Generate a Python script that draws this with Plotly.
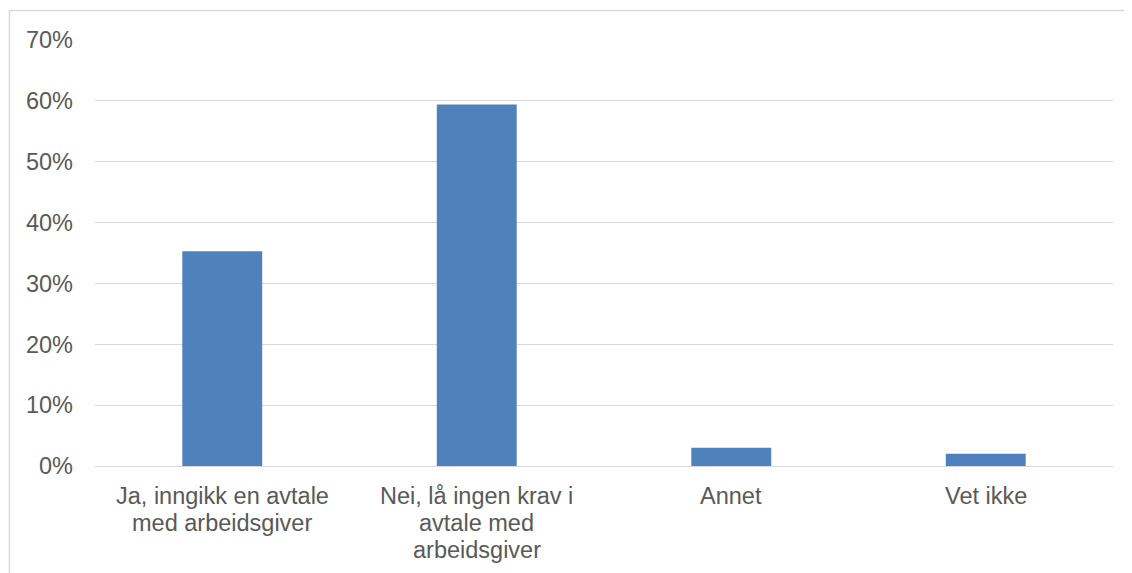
import plotly.graph_objects as go

categories = ["Ja, inngikk en avtale<br>med arbeidsgiver",
              "Nei, lå ingen krav i<br>avtale med<br>arbeidsgiver",
              "Annet",
              "Vet ikke"]
values = [0.353, 0.594, 0.030, 0.020]

# page body has an 8px margin, so the figure is drawn 8px right/down
OFF = 8
W, H = 1132 - OFF, 573 - OFF
L, R, T, B = 95 - OFF, 1113 - OFF, 40 - OFF, 466.5 - OFF
FS = 23.5
LINE = 26.7

def px(x):
    return (x - L) / (R - L)

def py(y):
    return (B - y) / (B - T)

fig = go.Figure(go.Bar(x=categories, y=values, marker_color="#4F81BD",
                       marker_line_width=0, width=0.314))

annotations = []
for cat in categories:
    for i, line in enumerate(cat.split("<br>")):
        yc = 497 - OFF + LINE * i
        annotations.append(dict(x=cat, xref="x", y=py(yc), yref="paper",
                                text=line, showarrow=False, xanchor="center",
                                yanchor="middle",
                                font=dict(size=FS, color="#595959")))

fig.update_layout(
    width=W, height=H,
    margin=dict(l=L, r=W - R, t=T, b=H - B, pad=0),
    paper_bgcolor="white", plot_bgcolor="white",
    font=dict(family="Liberation Sans, Arial, sans-serif", size=FS, color="#595959"),
    showlegend=False,
    annotations=annotations,
    shapes=[dict(type="rect", xref="paper", yref="paper",
                 x0=px(9.5 - OFF), x1=px(1145), y0=py(10.5 - OFF), y1=py(590),
                 line=dict(color="#D9D9D9", width=1.5), fillcolor="rgba(0,0,0,0)",
                 layer="below")],
)
fig.update_yaxes(range=[0, 0.7], dtick=0.1, tickformat=".0%",
                 showgrid=True, gridcolor="#D9D9D9", gridwidth=1.3,
                 zeroline=False, showline=False, ticks="", ticklabelstandoff=21,
                 tickfont=dict(size=FS, color="#595959"))
fig.update_xaxes(showgrid=False, showline=True, linecolor="#D9D9D9", linewidth=1.3,
                 ticks="", showticklabels=False)

fig.write_html("out.html")
